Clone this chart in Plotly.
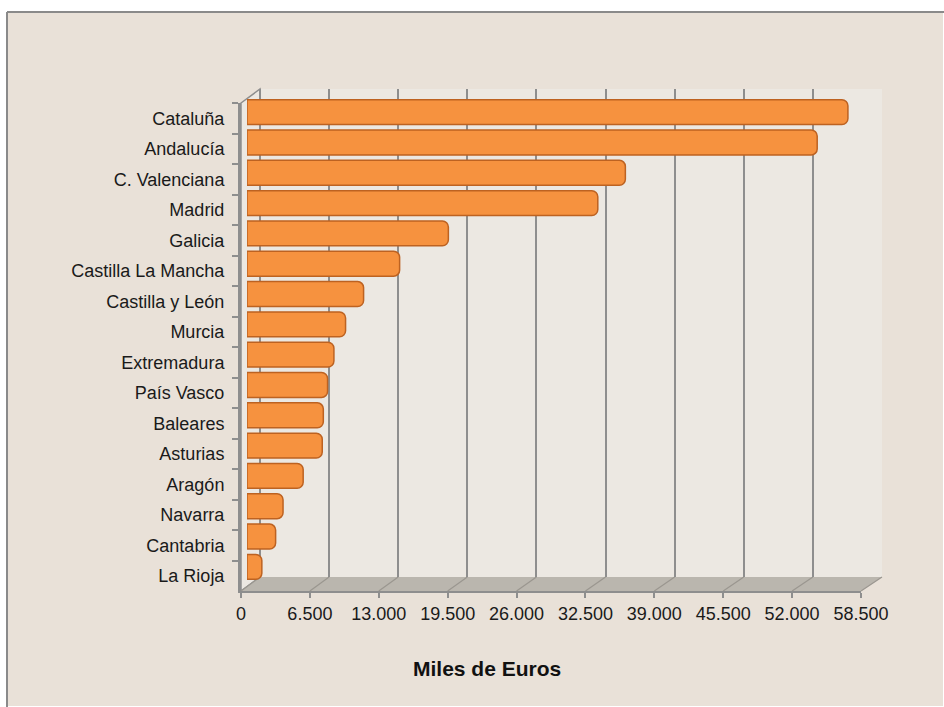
import plotly.graph_objects as go

regions = ["Cataluña", "Andalucía", "C. Valenciana", "Madrid", "Galicia",
           "Castilla La Mancha", "Castilla y León", "Murcia", "Extremadura",
           "País Vasco", "Baleares", "Asturias", "Aragón", "Navarra",
           "Cantabria", "La Rioja"]
values = [56700, 53800, 35700, 33100, 19000, 14400, 11000, 9300, 8200,
          7600, 7200, 7100, 5300, 3400, 2700, 1400]
tick_vals = [0, 6500, 13000, 19500, 26000, 32500, 39000, 45500, 52000, 58500]
x_title = "Miles de Euros"

W, H = 944, 707
XMAX = 58500
NCAT = len(regions)
YRANGE = [NCAT - 0.5, -0.5]


def px(x):
    return x / W


def py(y):
    return 1 - y / H


FONT = "Liberation Sans, Arial, sans-serif"
GRID = "#8E8E8E"
CHART_BG = "#E9E1D8"
WALL_BG = "#ECE8E2"
FLOOR = "#BAB6AE"
TEXT = "#1A1A1A"

# front plane (axis labels), bar plane, back plane (grid) in pixels
FX0, FX1, FY0, FY1 = 241, 861, 103, 591
BX0, BX1, BY0, BY1 = 260, 882, 89, 577
MX0, MX1, MY0, MY1 = 247, 867, 97, 582

fig = go.Figure()

# back plane (grid) - subplot xy
fig.add_trace(go.Scatter(x=values, y=regions, mode="markers",
                         marker=dict(opacity=0), hoverinfo="skip",
                         showlegend=False, xaxis="x", yaxis="y"))
# bars - subplot x2y2
fig.add_trace(go.Bar(x=values, y=regions, orientation="h",
                     marker=dict(color="#F6923F",
                                 line=dict(color="#BD6221", width=1.5),
                                 cornerradius=6),
                     width=0.82, showlegend=False, xaxis="x2", yaxis="y2"))
# front axes - subplot x3y3
fig.add_trace(go.Scatter(x=values, y=regions, mode="markers",
                         marker=dict(opacity=0), hoverinfo="skip",
                         showlegend=False, xaxis="x3", yaxis="y3"))

shapes = [
    # chart background box
    dict(type="rect", xref="paper", yref="paper",
         x0=px(7), x1=px(943), y0=py(12), y1=py(706),
         fillcolor=CHART_BG, line=dict(color=CHART_BG, width=0), layer="below"),
    dict(type="line", xref="paper", yref="paper",
         x0=px(7), x1=px(7), y0=py(12), y1=py(707),
         line=dict(color="#8A8A8A", width=2), layer="below"),
    dict(type="line", xref="paper", yref="paper",
         x0=px(7), x1=px(944), y0=py(12), y1=py(12),
         line=dict(color="#8A8A8A", width=2), layer="below"),
    # back wall
    dict(type="rect", xref="paper", yref="paper",
         x0=px(BX0), x1=px(BX1), y0=py(BY0), y1=py(BY1),
         fillcolor=WALL_BG, line=dict(width=0), layer="below"),
    # left wall
    dict(type="path", xref="paper", yref="paper",
         path=f"M {px(FX0)} {py(FY0)} L {px(BX0)} {py(BY0)} L {px(BX0)} {py(BY1)} L {px(FX0)} {py(FY1)} Z",
         fillcolor=WALL_BG, line=dict(color=GRID, width=1.5), layer="below"),
    # floor
    dict(type="path", xref="paper", yref="paper",
         path=f"M {px(FX0)} {py(FY1)} L {px(FX1)} {py(FY1)} L {px(BX1)} {py(BY1)} L {px(BX0)} {py(BY1)} Z",
         fillcolor=FLOOR, line=dict(width=0), layer="below"),
]
# floor diagonals at each tick
for v in tick_vals:
    xf = FX0 + v * (FX1 - FX0) / XMAX
    xb = BX0 + v * (BX1 - BX0) / XMAX
    shapes.append(dict(type="line", xref="paper", yref="paper",
                       x0=px(xf), y0=py(FY1), x1=px(xb), y1=py(BY1),
                       line=dict(color="#9A968F", width=1.2), layer="below"))

fig.update_layout(
    width=W, height=H, autosize=False,
    margin=dict(l=0, r=0, t=0, b=0, pad=0, autoexpand=False),
    paper_bgcolor="white",
    plot_bgcolor="rgba(0,0,0,0)",
    separators=",.",
    font=dict(family=FONT, size=18, color=TEXT),
    shapes=shapes,
    showlegend=False,
    xaxis=dict(domain=[px(BX0), px(BX1)], range=[0, XMAX], tickvals=tick_vals,
               showticklabels=False, ticks="", showgrid=True, gridcolor=GRID,
               gridwidth=2, zeroline=True, zerolinecolor=GRID, zerolinewidth=1.5,
               showline=False, anchor="y", automargin=False),
    yaxis=dict(domain=[py(BY1), py(BY0)], type="category",
               categoryorder="array", categoryarray=regions,
               range=YRANGE, showticklabels=False, showgrid=False,
               zeroline=False, showline=False, ticks="", anchor="x",
               automargin=False),
    xaxis2=dict(domain=[px(MX0), px(MX1)], range=[0, XMAX], visible=False,
                anchor="y2", automargin=False),
    yaxis2=dict(domain=[py(MY1), py(MY0)], type="category",
                categoryorder="array", categoryarray=regions,
                range=YRANGE, visible=False, anchor="x2",
                automargin=False),
    xaxis3=dict(domain=[px(FX0), px(FX1)], range=[0, XMAX], tickvals=tick_vals,
                tickformat=",", ticks="outside", ticklen=5, tickcolor=GRID,
                tickwidth=1.5, showline=True, linecolor=GRID, linewidth=2,
                showgrid=False, zeroline=False, anchor="y3", automargin=False,
                tickfont=dict(family=FONT, size=18, color=TEXT)),
    yaxis3=dict(domain=[py(FY1), py(FY0)], type="category",
                categoryorder="array", categoryarray=regions,
                range=YRANGE, ticks="outside", ticklen=6,
                tickcolor=GRID, tickwidth=1.5, tickson="boundaries",
                showline=True, linecolor=GRID, linewidth=3, showgrid=False,
                zeroline=False, anchor="x3", ticklabelstandoff=10,
                automargin=False,
                tickfont=dict(family=FONT, size=18, color=TEXT)),
    annotations=[dict(text=f"<b>{x_title}</b>", xref="paper", yref="paper",
                      x=px(487), y=py(668), xanchor="center", yanchor="middle",
                      showarrow=False,
                      font=dict(family=FONT, size=21, color="#111111"))],
)

fig.write_html("out.html", config={"displayModeBar": False},
               post_script="document.body.style.margin='0px';"
                           "document.body.style.overflow='hidden';")
